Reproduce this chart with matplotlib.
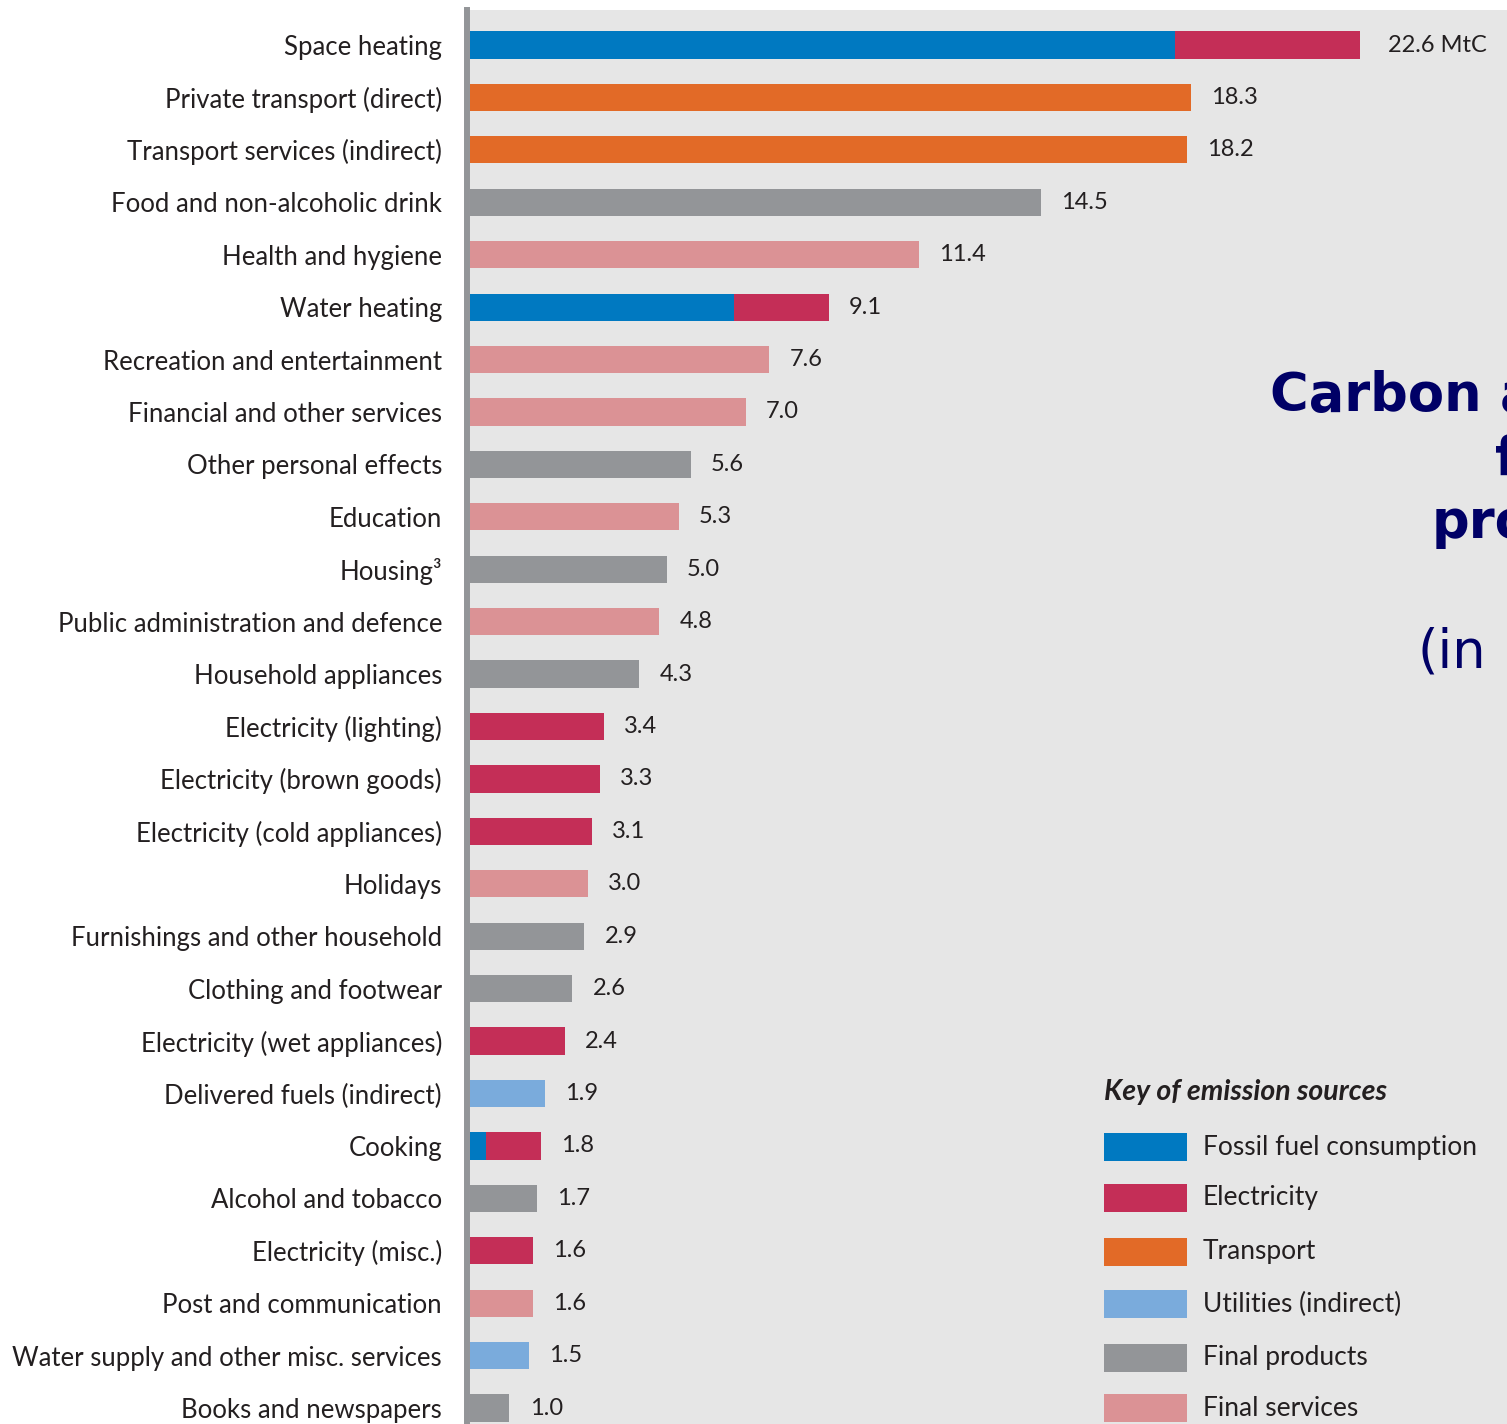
import matplotlib
matplotlib.use("Agg")
import matplotlib.pyplot as plt
from matplotlib.patches import Rectangle
import numpy as np

categories = [
    "Space heating", "Private transport (direct)", "Transport services (indirect)",
    "Food and non-alcoholic drink", "Health and hygiene", "Water heating",
    "Recreation and entertainment", "Financial and other services",
    "Other personal effects", "Education", "Housing\u00b3",
    "Public administration and defence", "Household appliances",
    "Electricity (lighting)", "Electricity (brown goods)",
    "Electricity (cold appliances)", "Holidays", "Furnishings and other household",
    "Clothing and footwear", "Electricity (wet appliances)",
    "Delivered fuels (indirect)", "Cooking", "Alcohol and tobacco",
    "Electricity (misc.)", "Post and communication",
    "Water supply and other misc. services", "Books and newspapers",
]
totals = [22.6, 18.3, 18.2, 14.5, 11.4, 9.1, 7.6, 7.0, 5.6, 5.3, 5.0, 4.8, 4.3,
          3.4, 3.3, 3.1, 3.0, 2.9, 2.6, 2.4, 1.9, 1.8, 1.7, 1.6, 1.6, 1.5, 1.0]

fossil      = [17.9, 0, 0, 0, 0, 6.7, 0, 0, 0, 0, 0, 0, 0, 0, 0, 0, 0, 0, 0, 0, 0, 0.4, 0, 0, 0, 0, 0]
electricity = [4.7, 0, 0, 0, 0, 2.4, 0, 0, 0, 0, 0, 0, 0, 3.4, 3.3, 3.1, 0, 0, 0, 2.4, 0, 1.4, 0, 1.6, 0, 0, 0]
transport   = [0, 18.3, 18.2, 0, 0, 0, 0, 0, 0, 0, 0, 0, 0, 0, 0, 0, 0, 0, 0, 0, 0, 0, 0, 0, 0, 0, 0]
utilities   = [0, 0, 0, 0, 0, 0, 0, 0, 0, 0, 0, 0, 0, 0, 0, 0, 0, 0, 0, 0, 1.9, 0, 0, 0, 0, 1.5, 0]
products    = [0, 0, 0, 14.5, 0, 0, 0, 0, 5.6, 0, 5.0, 0, 4.3, 0, 0, 0, 0, 2.9, 2.6, 0, 0, 0, 1.7, 0, 0, 0, 1.0]
services    = [0, 0, 0, 0, 11.4, 0, 7.6, 7.0, 0, 5.3, 0, 4.8, 0, 0, 0, 0, 3.0, 0, 0, 0, 0, 0, 0, 0, 1.6, 0, 0]

sources = ["Fossil fuel consumption", "Electricity", "Transport",
           "Utilities (indirect)", "Final products", "Final services"]
source_values = [fossil, electricity, transport, utilities, products, services]
source_colors = ["#0079c1", "#c42e57", "#e26a27", "#7aabdc", "#939598", "#db9295"]

W, H = 1507, 1424
fig = plt.figure(figsize=(W / 100, H / 100), dpi=100)
fig.patch.set_facecolor("white")

font = "Lato"
text_color = "#231f20"

ax_left = 467 / W
ax_top = (H - 10) / H
ax = fig.add_axes([ax_left, 0, 1 - ax_left, ax_top])
ax.set_facecolor("#e6e6e6")

y = np.arange(len(categories))
left = np.zeros(len(categories))
for vals, col in zip(source_values, source_colors):
    v = np.array(vals, dtype=float)
    ax.barh(y, v, left=left, height=0.52, color=col, linewidth=0, zorder=2)
    left += v

px_per_unit = 39.4
ax.set_xlim(-3 / px_per_unit, (W - 470) / px_per_unit)
ax.set_ylim(len(categories) - 1 + 0.305, -0.668)

for i, t in enumerate(totals):
    lab = f"{t:.1f}" + (" MtC" if i == 0 else "")
    ax.annotate(lab, (t, i), xytext=(20 if i == 0 else 14.5, 0), textcoords="offset points",
                ha="left", va="center", fontsize=17, family=font, color=text_color)

ax.set_yticks(y)
ax.set_yticklabels(categories, family=font, fontsize=18.5, color=text_color)
ax.tick_params(axis="y", length=0, pad=18)
ax.set_xticks([])
for s in ["top", "right", "bottom"]:
    ax.spines[s].set_visible(False)
ax.spines["left"].set_color("#939598")
ax.spines["left"].set_linewidth(4.3)
ax.spines["left"].set_zorder(3)

# Title (partially visible at right edge, as in the reference)
navy = "#000066"
fig.text(1270 / W, 1 - 411 / H, "Carbon a", fontsize=38, fontweight="bold",
         color=navy, family="DejaVu Sans", ha="left", va="baseline")
fig.text(1495 / W, 1 - 475 / H, "f", fontsize=38, fontweight="bold",
         color=navy, family="DejaVu Sans", ha="left", va="baseline")
fig.text(1432 / W, 1 - 538 / H, "pro", fontsize=38, fontweight="bold",
         color=navy, family="DejaVu Sans", ha="left", va="baseline")
fig.text(1418 / W, 1 - 668 / H, "(in", fontsize=38,
         color=navy, family="DejaVu Sans", ha="left", va="baseline")

# Key of emission sources
fig.text(1104 / W, 1 - 1092 / H, "Key of emission sources", fontsize=20.5,
         style="italic", fontweight="bold", family=font, color=text_color,
         ha="left", va="center")
row_y = [1147, 1198, 1252, 1304, 1358, 1408]
for name, col, yy in zip(sources, source_colors, row_y):
    fig.patches.append(Rectangle((1104 / W, 1 - (yy + 14) / H), 83 / W, 28 / H,
                                 transform=fig.transFigure, color=col, linewidth=0))
    fig.text(1203 / W, 1 - yy / H, name, fontsize=19, family=font,
             color=text_color, ha="left", va="center")

fig.savefig("out.png", dpi=100)
